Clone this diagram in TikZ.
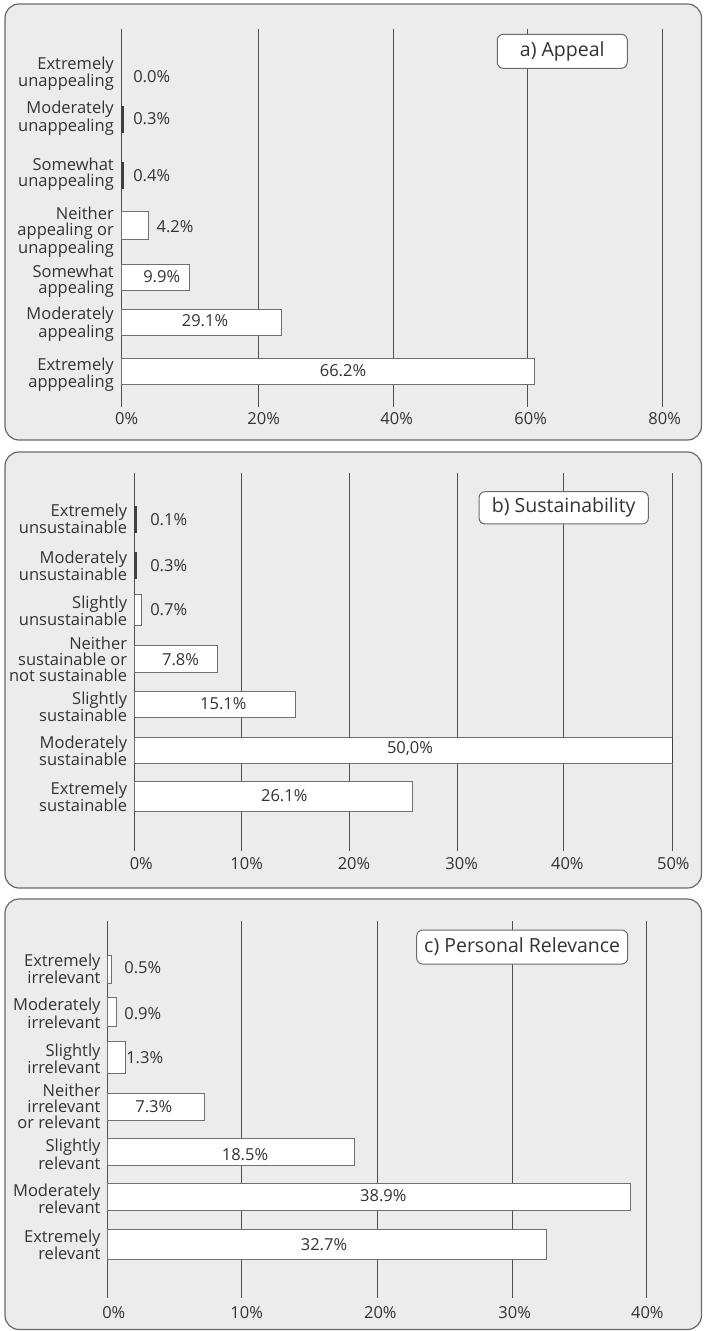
\documentclass[tikz,border=0pt]{standalone}
\usepackage{fontspec}
\setmainfont{Open Sans}
\definecolor{panelbg}{HTML}{ECECEC}
\definecolor{panelline}{HTML}{6A6A6A}
\definecolor{gridc}{HTML}{505050}
\definecolor{barline}{HTML}{707070}
\definecolor{txt}{HTML}{333333}
\definecolor{darkbar}{HTML}{404040}
\begin{document}
\begin{tikzpicture}[x=1bp,y=-1bp,
  panelbox/.style={draw=panelline, fill=panelbg, line width=1.2bp, rounded corners=14bp},
  gridline/.style={draw=gridc, line width=1bp},
  barbox/.style={draw=barline, fill=white, line width=1bp},
  tinybar/.style={draw=darkbar, fill=darkbar, line width=0.5bp},
  lab/.style={anchor=east, align=right, inner sep=0pt, text=txt, font=\fontsize{16.5bp}{16bp}\selectfont},
  val/.style={inner sep=0pt, text=txt, font=\fontsize{16.5bp}{16bp}\selectfont},
  ticklab/.style={inner sep=0pt, text=txt, font=\fontsize{16.5bp}{16bp}\selectfont},
  titlebox/.style={draw=panelline, fill=white, rounded corners=6bp, line width=1bp, inner sep=0pt, text=txt, font=\fontsize{19.5bp}{20bp}\selectfont}
]
\useasboundingbox (0,0) rectangle (703,1331);

% ================= Panel a =================
\draw[panelbox] (5,4) rectangle (701.5,440);
\foreach \x in {121,258.3,393.3,527.3,662.3} \draw[gridline] (\x,29) -- (\x,407);
\node[ticklab] (a0) at (126.7,419) {0\%};
\node[ticklab] (a20) at (263.7,419) {20\%};
\node[ticklab] (a40) at (396.7,419) {40\%};
\node[ticklab] (a60) at (530.7,419) {60\%};
\node[ticklab] (a80) at (664.7,419) {80\%};
\node[titlebox, minimum width=130bp, minimum height=34bp] (atitle) at (562.3,51.3) {a) Appeal};
% bars
\draw[tinybar] (121.3,106) rectangle (123.6,132);
\draw[tinybar] (121.3,162) rectangle (123.6,188);
\draw[barbox] (121,212) rectangle (148.3,240);
\draw[barbox] (121,264.3) rectangle (189.3,291);
\draw[barbox] (121,309) rectangle (281.7,335.7);
\draw[barbox] (121,358.3) rectangle (534,384.3);
% labels
\node[lab] (al1) at (114,73.7) {Extremely\\unappealing};
\node[lab] (al2) at (114,118.3) {Moderately\\unappealing};
\node[lab] (al3) at (114,174.2) {Somewhat\\unappealing};
\node[lab] (al4) at (114,232) {Neither\\appealing or\\unappealing};
\node[lab] (al5) at (114,281.7) {Somewhat\\appealing};
\node[lab] (al6) at (114,324) {Moderately\\appealing};
\node[lab] (al7) at (114,374.7) {Extremely\\apppealing};
% values
\node[val] (av1) at (151.7,77) {0.0\%};
\node[val] (av2) at (151.7,119) {0.3\%};
\node[val] (av3) at (151.7,176) {0.4\%};
\node[val] (av4) at (175,227) {4.2\%};
\node[val] (av5) at (161.7,276.7) {9.9\%};
\node[val] (av6) at (205,321) {29.1\%};
\node[val] (av7) at (343,371) {66.2\%};

% ================= Panel b =================
\draw[panelbox] (5,452) rectangle (701.5,888);
\foreach \x in {134.3,241.9,349.5,457.7,563.3,672.3} \draw[gridline] (\x,473) -- (\x,851);
\node[ticklab] (b0) at (141.3,863.3) {0\%};
\node[ticklab] (b10) at (246.7,863.3) {10\%};
\node[ticklab] (b20) at (354,863.3) {20\%};
\node[ticklab] (b30) at (461.7,863.3) {30\%};
\node[ticklab] (b40) at (567.3,863.3) {40\%};
\node[ticklab] (b50) at (673.3,863.3) {50\%};
\node[titlebox, minimum width=169.3bp, minimum height=32.3bp] (btitle) at (563.7,507.8) {b) Sustainability};
% bars
\draw[tinybar] (134.3,506) rectangle (135.8,532.7);
\draw[tinybar] (134.3,552.3) rectangle (135.8,578.3);
\draw[barbox] (134.3,594) rectangle (141.7,625.7);
\draw[barbox] (134.3,645.7) rectangle (217.3,672.7);
\draw[barbox] (134.3,691) rectangle (295.7,717.7);
\draw[barbox] (134.3,737) rectangle (672.3,763.3);
\draw[darkbar, line width=1.6bp] (672.3,737) -- (672.3,763.3);
\draw[barbox] (134.3,781.5) rectangle (412.3,811.7);
% labels
\node[lab] (bl1) at (127.3,519) {Extremely\\unsustainable};
\node[lab] (bl2) at (127.3,565.7) {Moderately\\unsustainable};
\node[lab] (bl3) at (127.3,611) {Slightly\\unsustainable};
\node[lab] (bl4) at (127.3,659) {Neither\\sustainable or\\not sustainable};
\node[lab] (bl5) at (127.3,707) {Slightly\\sustainable};
\node[lab] (bl6) at (127.3,751) {Moderately\\sustainable};
\node[lab] (bl7) at (127.3,797) {Extremely\\sustainable};
% values
\node[val] (bv1) at (168.7,520) {0.1\%};
\node[val] (bv2) at (168.7,566) {0.3\%};
\node[val] (bv3) at (168.7,610) {0.7\%};
\node[val] (bv4) at (180.5,659.3) {7.8\%};
\node[val] (bv5) at (223.3,704) {15.1\%};
\node[val] (bv6) at (410,748.3) {50,0\%};
\node[val] (bv7) at (284.2,796) {26.1\%};

% ================= Panel c =================
\draw[panelbox] (5,899) rectangle (701.5,1329.5);
\foreach \x in {107.7,241.7,377.7,512.3,646.7} \draw[gridline] (\x,921) -- (\x,1297.5);
\node[ticklab] (c0) at (113.8,1312.5) {0\%};
\node[ticklab] (c10) at (246.7,1312.5) {10\%};
\node[ticklab] (c20) at (380.3,1312.5) {20\%};
\node[ticklab] (c30) at (514.7,1312.5) {30\%};
\node[ticklab] (c40) at (647.3,1312.5) {40\%};
\node[titlebox, minimum width=211bp, minimum height=34bp] (ctitle) at (522.2,947) {c) Personal Relevance};
% bars
\draw[barbox] (107.7,955) rectangle (111.5,983.3);
\draw[barbox] (107.7,997.3) rectangle (116.7,1026.7);
\draw[barbox] (107.7,1041.7) rectangle (125,1073.3);
\draw[barbox] (107.7,1093.3) rectangle (204,1120.7);
\draw[barbox] (107.7,1138.3) rectangle (354,1165);
\draw[barbox] (107.7,1183.3) rectangle (630.7,1210);
\draw[barbox] (107.7,1229) rectangle (546.7,1259);
% labels
\node[lab] (cl1) at (100.7,969) {Extremely\\irrelevant};
\node[lab] (cl2) at (100.7,1013.5) {Moderately\\irrelevant};
\node[lab] (cl3) at (100.7,1059) {Slightly\\irrelevant};
\node[lab] (cl4) at (100.7,1106.7) {Neither\\irrelevant\\or relevant};
\node[lab] (cl5) at (100.7,1154.5) {Slightly\\relevant};
\node[lab] (cl6) at (100.7,1199) {Moderately\\relevant};
\node[lab] (cl7) at (100.7,1245) {Extremely\\relevant};
% values
\node[val] (cv1) at (142.8,967.7) {0.5\%};
\node[val] (cv2) at (142.8,1013.3) {0.9\%};
\node[val] (cv3) at (144.7,1057.7) {1.3\%};
\node[val] (cv4) at (153.8,1106.7) {7.3\%};
\node[val] (cv5) at (245,1154.3) {18.5\%};
\node[val] (cv6) at (383.3,1196) {38.9\%};
\node[val] (cv7) at (324,1245) {32.7\%};
\end{tikzpicture}
\end{document}
